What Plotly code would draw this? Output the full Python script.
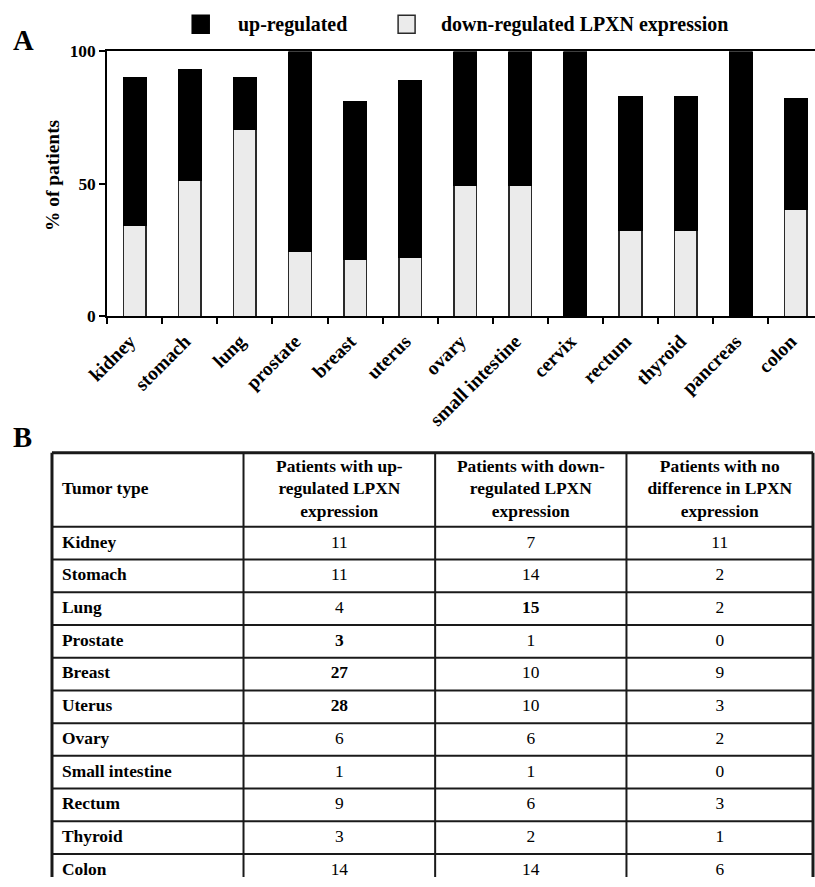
import plotly.graph_objects as go

# ---------------- data ----------------
categories = ["kidney", "stomach", "lung", "prostate", "breast", "uterus", "ovary",
              "small intestine", "cervix", "rectum", "thyroid", "pancreas", "colon"]
down_pct = [34.5, 51.5, 70.5, 24.5, 21.5, 22.5, 49.5, 49.5, 0, 32.5, 32.5, 0, 40.5]
up_pct = [55.5, 41.5, 19.5, 75.5, 59.5, 66.5, 50.5, 50.5, 100, 50.5, 50.5, 100, 41.5]
y_ticks = [0, 50, 100]

tumor_types = ["Kidney", "Stomach", "Lung", "Prostate", "Breast", "Uterus", "Ovary",
               "Small intestine", "Rectum", "Thyroid", "Colon"]
n_up = [11, 11, 4, 3, 27, 28, 6, 1, 9, 3, 14]
n_down = [7, 14, 15, 1, 10, 10, 6, 1, 6, 2, 14]
n_none = [11, 2, 2, 0, 9, 3, 2, 0, 3, 1, 6]
bold_up = ["Prostate", "Breast", "Uterus"]
bold_down = ["Lung"]
bold_none = []
table_header = ["Tumor type",
                "Patients with up-<br>regulated LPXN<br>expression",
                "Patients with down-<br>regulated LPXN<br>expression",
                "Patients with no<br>difference in LPXN<br>expression"]

# ---------------- layout constants ----------------
W, H = 815, 887
FONT = "Liberation Serif, Times New Roman, serif"
# observed mapping of the page photograph: screen = OFF + S * figure pixel
SX, OX = 0.9735, 21.7
SY, OY = 0.98, 7.8
COL_EDGES = [0, 191.6, 383.3, 574.7, 761.3]   # table column boundaries (screen px from table left)
ROW_PX = 32.8
HDR = 74.3 / ROW_PX                             # header height in row units
LINE_C = "#1a1a1a"


def px(x):
    return (x - OX) / SX / W


def py(y):
    return 1 - (y - OY) / SY / H


def fs(v):
    return v / 0.977


def fmt(vals, bold_list):
    return [f"<b>{v}</b>" if t in bold_list else str(v) for t, v in zip(tumor_types, vals)]


fig = go.Figure()

# ---------------- panel A: stacked bars ----------------
fig.add_trace(go.Bar(
    x=categories, y=down_pct, name="down-regulated LPXN expression",
    marker=dict(color="#ebebeb", line=dict(color="#2a2a2a", width=1.5)),
    width=0.41, showlegend=False, xaxis="x", yaxis="y"))
fig.add_trace(go.Bar(
    x=categories, y=up_pct, name="up-regulated",
    marker=dict(color="#000000", line=dict(color="#000000", width=1.5)),
    width=0.41, showlegend=False, xaxis="x", yaxis="y"))

# ---------------- panel B: table ----------------
row_y = [i + 0.5 for i in range(len(tumor_types))]
hdr_y = -HDR / 2
col_mid = [(COL_EDGES[i] + COL_EDGES[i + 1]) / 2 for i in range(4)]

tfont = dict(family=FONT, size=fs(17), color="black")
fig.add_trace(go.Scatter(
    x=[COL_EDGES[0] + 10] * (len(tumor_types) + 1), y=[hdr_y] + row_y,
    text=["<b>" + table_header[0] + "</b>"] + ["<b>" + t + "</b>" for t in tumor_types],
    mode="text", textposition="middle right", textfont=tfont,
    cliponaxis=False, hoverinfo="skip", showlegend=False, xaxis="x2", yaxis="y2"))
for ci, (vals, bl) in enumerate([(n_up, bold_up), (n_down, bold_down), (n_none, bold_none)], start=1):
    fig.add_trace(go.Scatter(
        x=[col_mid[ci]] * (len(tumor_types) + 1), y=[hdr_y] + row_y,
        text=["<b>" + table_header[ci] + "</b>"] + fmt(vals, bl),
        mode="text", textposition="middle center", textfont=tfont,
        cliponaxis=False, hoverinfo="skip", showlegend=False, xaxis="x2", yaxis="y2"))

shapes = []
for yv in [-HDR, 0] + [i + 1 for i in range(len(tumor_types))]:
    outer = yv == -HDR
    shapes.append(dict(type="line", xref="x2", yref="y2", x0=COL_EDGES[0], x1=COL_EDGES[-1],
                       y0=yv, y1=yv, line=dict(color=LINE_C, width=3 if outer else 2)))
for i, xv in enumerate(COL_EDGES):
    outer = i in (0, len(COL_EDGES) - 1)
    shapes.append(dict(type="line", xref="x2", yref="y2", x0=xv, x1=xv,
                       y0=-HDR, y1=len(tumor_types), line=dict(color=LINE_C, width=3 if outer else 2)))

# legend swatches (panel A)
shapes += [
    dict(type="rect", xref="paper", yref="paper",
         x0=px(192), x1=px(209), y0=py(31), y1=py(13),
         fillcolor="black", line=dict(color="black", width=1.5)),
    dict(type="rect", xref="paper", yref="paper",
         x0=px(398), x1=px(415), y0=py(31), y1=py(13),
         fillcolor="#ebebeb", line=dict(color="#2a2a2a", width=1.5)),
]

# table axes: x2 in screen px from the table's left border, y2 in row units
tbl_left, tbl_top = 51.7, 451.7
x2_lo, x2_hi = -2.0, (815 - tbl_left)
y2_top = -HDR - (tbl_top - 449) / ROW_PX
y2_bot = len(tumor_types) - (tbl_top + 74.3 + ROW_PX * len(tumor_types) - (OY + SY * H)) / ROW_PX

fig.update_layout(
    width=W, height=H, autosize=False,
    margin=dict(l=0, r=0, t=0, b=0, pad=0),
    paper_bgcolor="white", plot_bgcolor="white",
    barmode="stack",
    font=dict(family=FONT, color="black"),
    xaxis=dict(
        domain=[px(107), 1], type="category", range=[-0.5, 12.35],
        tickson="boundaries", ticks="outside", ticklen=6, tickwidth=2, tickcolor="black",
        showline=True, linewidth=2, linecolor="black", mirror=True,
        showgrid=False, zeroline=False, tickangle=-45, fixedrange=True,
        ticklabelshift=-5, ticklabelstandoff=4,
        tickfont=dict(family=FONT, size=fs(19), weight="bold", color="black")),
    yaxis=dict(
        domain=[py(315), py(49.3)], range=[0, 100],
        tickvals=y_ticks, ticktext=[str(v) for v in y_ticks],
        ticks="outside", ticklen=6, tickwidth=2, tickcolor="black",
        showline=True, linewidth=2, linecolor="black",
        showgrid=False, zeroline=False, fixedrange=True,
        tickfont=dict(family=FONT, size=fs(17), weight="bold", color="black")),
    xaxis2=dict(domain=[px(tbl_left + x2_lo), 1], range=[x2_lo, x2_hi], visible=False,
                showgrid=False, zeroline=False, fixedrange=True),
    yaxis2=dict(domain=[0, py(449)], range=[y2_bot, y2_top],
                visible=False, showgrid=False, zeroline=False, fixedrange=True),
    shapes=shapes,
    annotations=[
        dict(text="up-regulated", x=px(236), y=py(22), xref="paper", yref="paper",
             xanchor="left", yanchor="middle", showarrow=False,
             font=dict(family=FONT, size=fs(19.5), weight="bold", color="black")),
        dict(text="down-regulated LPXN expression", x=px(439), y=py(22), xref="paper", yref="paper",
             xanchor="left", yanchor="middle", showarrow=False,
             font=dict(family=FONT, size=fs(19.5), weight="bold", color="black")),
        dict(text="% of patients", x=px(52), y=py(173), xref="paper", yref="paper",
             xanchor="center", yanchor="middle", textangle=-90, showarrow=False,
             font=dict(family=FONT, size=fs(19), weight="bold", color="black")),
        dict(text="A", x=px(23), y=py(37.5), xref="paper", yref="paper",
             xanchor="center", yanchor="middle", showarrow=False,
             font=dict(family=FONT, size=fs(28), weight="bold", color="black")),
        dict(text="B", x=px(22), y=py(435.5), xref="paper", yref="paper",
             xanchor="center", yanchor="middle", showarrow=False,
             font=dict(family=FONT, size=fs(28), weight="bold", color="black")),
    ],
)

fig.write_html(
    "out.html",
    config={"displayModeBar": False},
    post_script=("document.body.style.margin='0';document.body.style.overflow='hidden';"
                 "document.documentElement.style.overflow='hidden';"),
)
